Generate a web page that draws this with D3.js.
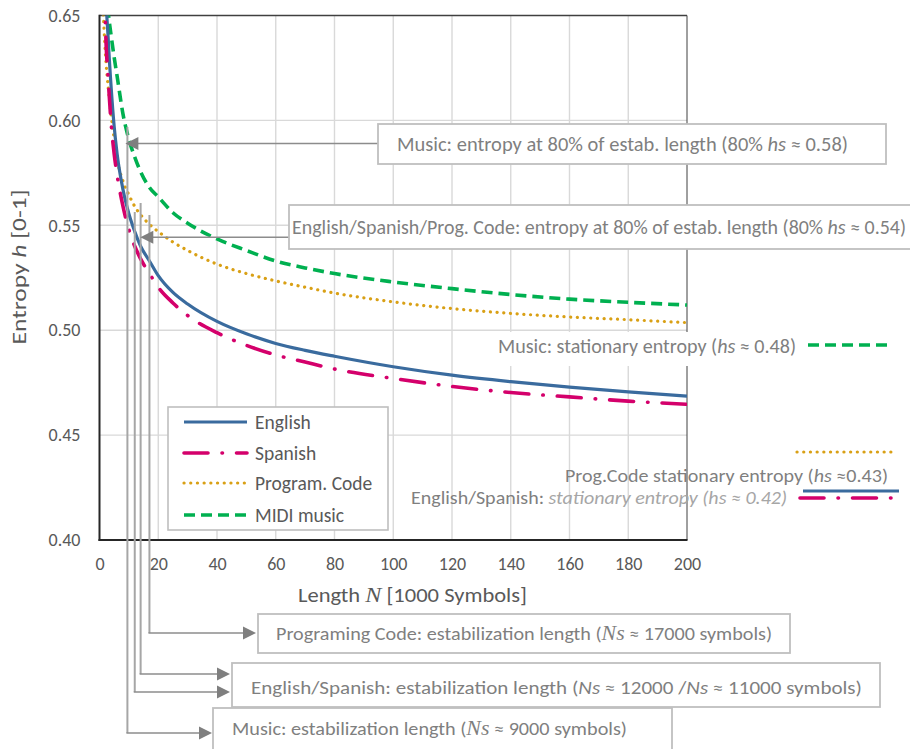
<!DOCTYPE html>
<html>
<head>
<meta charset="utf-8">
<script src="https://cdn.jsdelivr.net/npm/d3@7"></script>
<style>
  html, body { margin: 0; padding: 0; background: #fff; }
  svg { display: block; font-family: Calibri, Carlito, Lato, "Open Sans", sans-serif; }
</style>
</head>
<body>
<svg id="chart" width="910" height="749"></svg>
<script>
// Sequence length N, in thousands of symbols
const lengthK = [1, 2, 3, 4, 5, 6, 8, 10, 12, 14, 17, 20, 25, 30, 40, 50, 60, 70, 80, 100, 120, 140, 160, 180, 200];

// Entropy h for each corpus at the lengths above
const english = [0.78, 0.67, 0.638, 0.615, 0.597, 0.584, 0.567, 0.5555, 0.547, 0.540, 0.533, 0.526, 0.518, 0.5125, 0.5042, 0.4983, 0.4937, 0.4904, 0.4876, 0.4826, 0.4786, 0.4755, 0.4729, 0.4706, 0.4686];
const spanish = [0.74, 0.648, 0.619, 0.598, 0.584, 0.574, 0.559, 0.548, 0.540, 0.534, 0.527, 0.5205, 0.513, 0.507, 0.4988, 0.4928, 0.4882, 0.4848, 0.4815, 0.477, 0.4732, 0.4703, 0.4682, 0.4662, 0.4647];
const progCode = [0.66, 0.632, 0.615, 0.602, 0.591, 0.5815, 0.571, 0.5645, 0.559, 0.555, 0.5505, 0.547, 0.542, 0.538, 0.5315, 0.527, 0.5235, 0.5205, 0.5177, 0.5135, 0.5103, 0.508, 0.5063, 0.505, 0.5036];
const midiMusic = [0.80, 0.666, 0.651, 0.640, 0.630, 0.621, 0.603, 0.591, 0.5825, 0.5755, 0.568, 0.5635, 0.556, 0.551, 0.5435, 0.538, 0.533, 0.5297, 0.527, 0.523, 0.5198, 0.517, 0.5148, 0.5133, 0.512];

const seriesNames = ["English", "Spanish", "Program. Code", "MIDI music"];

// Axis ticks
const xTicks = [0, 20, 40, 60, 80, 100, 120, 140, 160, 180, 200];
const yTicks = [0.40, 0.45, 0.50, 0.55, 0.60, 0.65];

// Stabilisation lengths marked by the leader lines (thousand symbols)
const stabMusic = 9.5, stabSpanish = 12, stabEnglish = 14, stabProg = 17;
// Entropy levels marked by the two "80%" arrows
const h80Music = 0.589, h80Text = 0.5443;

const svg = d3.select("#chart");
const plot = { left: 99.5, right: 687, top: 15.5, bottom: 540 };

const x = d3.scaleLinear().domain([0, 200]).range([plot.left, plot.right]);
const y = d3.scaleLinear().domain([0.40, 0.65]).range([plot.bottom, plot.top]);

const styles = [
  { color: "#3a6b9e", width: 3.2, dash: null, cap: "butt" },
  { color: "#d4006b", width: 3.6, dash: "24,14,0.5,14", cap: "round" },
  { color: "#d9a015", width: 3.2, dash: "0.1,6.6", cap: "round" },
  { color: "#00b050", width: 3.6, dash: "11,6", cap: "butt" }
];
const seriesValues = [english, spanish, progCode, midiMusic];

// Grid
const grid = svg.append("g");
grid.selectAll("line.v").data(xTicks.slice(1, -1)).join("line")
  .attr("x1", d => x(d)).attr("x2", d => x(d))
  .attr("y1", plot.top).attr("y2", plot.bottom)
  .attr("stroke", "#d9d9d9").attr("stroke-width", 1.4);
grid.selectAll("line.h").data(yTicks.slice(1, -1)).join("line")
  .attr("x1", plot.left).attr("x2", plot.right)
  .attr("y1", d => y(d)).attr("y2", d => y(d))
  .attr("stroke", "#d9d9d9").attr("stroke-width", 1.4);

// Frame
svg.append("line").attr("x1", plot.left).attr("x2", plot.right).attr("y1", plot.top).attr("y2", plot.top)
  .attr("stroke", "#404040").attr("stroke-width", 1.6);
svg.append("line").attr("x1", plot.right).attr("x2", plot.right).attr("y1", plot.top).attr("y2", plot.bottom)
  .attr("stroke", "#404040").attr("stroke-width", 1);

// Axes (labels only; axis lines drawn separately)
const xAxis = svg.append("g").attr("transform", `translate(0,${plot.bottom})`)
  .call(d3.axisBottom(x).tickValues(xTicks).tickSize(0).tickPadding(17).tickFormat(d3.format("d")));
const yAxis = svg.append("g").attr("transform", `translate(${plot.left},0)`)
  .call(d3.axisLeft(y).tickValues(yTicks).tickSize(0).tickPadding(19).tickFormat(d3.format(".2f")));
[xAxis, yAxis].forEach(a => {
  a.select(".domain").remove();
  a.selectAll("text").attr("fill", "#595959").style("font-size", "18px")
    .style("font-family", "Calibri, Carlito, Lato, sans-serif");
});
svg.append("line").attr("x1", plot.left).attr("x2", plot.left).attr("y1", plot.top - 0.8).attr("y2", plot.bottom + 1)
  .attr("stroke", "#262626").attr("stroke-width", 2);
svg.append("line").attr("x1", plot.left - 1).attr("x2", plot.right + 0.5).attr("y1", plot.bottom).attr("y2", plot.bottom)
  .attr("stroke", "#262626").attr("stroke-width", 2);

// Text with italic parts, stretched to a given run length
function richText(g, px, py, parts, size, color, len, rotate) {
  const t = g.append("text").attr("dy", "0.35em")
    .attr("fill", color).style("font-size", size + "px");
  if (rotate) t.attr("transform", `translate(${px},${py}) rotate(-90)`).attr("text-anchor", "middle");
  else t.attr("x", px).attr("y", py);
  parts.forEach(p => {
    const s = t.append("tspan").text(p.t);
    if (p.i) s.style("font-style", "italic");
    if (p.serif) s.style("font-family", "'Liberation Serif', serif").style("font-size", (size + 1.5) + "px");
    if (p.c) s.attr("fill", p.c);
  });
  if (len) t.attr("textLength", len).attr("lengthAdjust", "spacingAndGlyphs");
  return t;
}

// Axis titles
richText(svg, 298, 595, [{ t: "Length " }, { t: "N", i: true, serif: true }, { t: " [1000 Symbols]" }], 20.5, "#595959", 229);
richText(svg, 19, 267, [{ t: "Entropy " }, { t: "h", i: true }, { t: " [0-1]" }], 20.5, "#595959", 155, true);

// Curves
svg.append("clipPath").attr("id", "plotClip").append("rect")
  .attr("x", plot.left).attr("y", plot.top).attr("width", plot.right - plot.left).attr("height", plot.bottom - plot.top);
const line = d3.line().x(d => x(d[0])).y(d => y(d[1])).curve(d3.curveMonotoneX);
const curves = svg.append("g").attr("clip-path", "url(#plotClip)");
[3, 2, 0, 1].forEach(i => {
  const s = styles[i];
  curves.append("path")
    .datum(lengthK.map((n, k) => [n, seriesValues[i][k]]))
    .attr("d", line).attr("fill", "none")
    .attr("stroke", s.color).attr("stroke-width", s.width)
    .attr("stroke-dasharray", s.dash).attr("stroke-linecap", s.cap);
});

// Arrowheads with the tip at (tx, ty)
function arrowLeft(g, tx, ty) {
  g.append("path").attr("d", `M${tx},${ty} L${tx + 13},${ty - 6.5} L${tx + 13},${ty + 6.5} Z`).attr("fill", "#7f7f7f");
}
function arrowRight(g, tx, ty) {
  g.append("path").attr("d", `M${tx},${ty} L${tx - 13},${ty - 6.5} L${tx - 13},${ty + 6.5} Z`).attr("fill", "#7f7f7f");
}

// Leader lines for the stabilisation lengths
const leaders = svg.append("g");
const leaderSpec = [
  { n: stabMusic, top: 127, bottom: 733, tip: 212 },
  { n: stabSpanish, top: 212, bottom: 692, tip: 230 },
  { n: stabEnglish, top: 203, bottom: 674, tip: 230 },
  { n: stabProg, top: 215, bottom: 633, tip: 256 }
];
leaderSpec.forEach(l => {
  leaders.append("line").attr("x1", x(l.n)).attr("x2", x(l.n)).attr("y1", l.top).attr("y2", l.bottom)
    .attr("stroke", "#a6a6a6").attr("stroke-width", 2);
  leaders.append("line").attr("x1", x(l.n) - 1).attr("x2", l.tip - 10).attr("y1", l.bottom).attr("y2", l.bottom)
    .attr("stroke", "#8c8c8c").attr("stroke-width", 1.6);
  arrowRight(leaders, l.tip, l.bottom);
});

// Arrows for the 80% entropy levels
const arrows = svg.append("g");
[{ h: h80Music, tipN: 8.8, from: 378 }, { h: h80Text, tipN: 13.9, from: 289 }].forEach(a => {
  arrows.append("line").attr("x1", x(a.tipN) + 10).attr("x2", a.from).attr("y1", y(a.h)).attr("y2", y(a.h))
    .attr("stroke", "#8c8c8c").attr("stroke-width", 1.6);
  arrowLeft(arrows, x(a.tipN), y(a.h));
});

// Boxed callouts
const boxes = svg.append("g");
function box(x0, y0, x1, y1) {
  boxes.append("rect").attr("x", x0).attr("y", y0).attr("width", x1 - x0).attr("height", y1 - y0)
    .attr("fill", "#fff").attr("stroke", "#bfbfbf").attr("stroke-width", 1.8);
}
box(378, 124, 886, 164);
richText(boxes, 397, 144, [{ t: "Music: entropy at 80% of estab. length (80% " }, { t: "hs", i: true }, { t: "  ≈ 0.58)" }], 19.5, "#7f7f7f", 451);
box(289, 205, 912, 249);
richText(boxes, 292, 227, [{ t: "English/Spanish/Prog. Code: entropy at 80% of estab. length (80% " }, { t: "hs", i: true }, { t: " ≈ 0.54)" }], 19.5, "#7f7f7f", 614);

box(258, 614, 790, 653);
richText(boxes, 276, 634, [{ t: "Programing Code: estabilization length (" }, { t: "Ns", i: true, serif: true }, { t: " ≈ 17000 symbols)" }], 18.5, "#7f7f7f", 496);
box(232, 663, 880, 707);
richText(boxes, 251, 688, [{ t: "English/Spanish: estabilization length (" }, { t: "Ns", i: true }, { t: " ≈ 12000 /" }, { t: "Ns", i: true }, { t: " ≈ 11000 symbols)" }], 18.5, "#7f7f7f", 611);
box(213, 708, 672, 752);
richText(boxes, 232, 729, [{ t: "Music: estabilization length (" }, { t: "Ns", i: true, serif: true }, { t: " ≈ 9000 symbols)" }], 18.5, "#7f7f7f", 395);

// Stationary entropy labels on the right
const stat = svg.append("g");
stat.append("rect").attr("x", 477).attr("y", 332).attr("width", 325).attr("height", 34).attr("fill", "#fff");
richText(stat, 498, 346, [{ t: "Music: stationary entropy (" }, { t: "hs", i: true }, { t: " ≈ 0.48)" }], 19.5, "#7f7f7f", 298);
richText(stat, 411, 498, [{ t: "English/Spanish: " }, { t: "stationary entropy (", i: true, c: "#a6a6a6" }, { t: "hs", i: true, c: "#a6a6a6" }, { t: " ≈ 0.42)", i: true, c: "#a6a6a6" }], 18, "#7f7f7f", 376);
richText(stat, 565, 476, [{ t: "Prog.Code stationary entropy (" }, { t: "hs", i: true }, { t: " ≈0.43)" }], 18, "#7f7f7f", 323);

const statLines = [
  { i: 3, x0: 808, x1: 893, yy: 345 },
  { i: 2, x0: 797, x1: 892, yy: 452 },
  { i: 0, x0: 803, x1: 899, yy: 491 },
  { i: 1, x0: 800, x1: 900, yy: 498 }
];
statLines.forEach(sl => {
  const s = styles[sl.i];
  stat.append("line").attr("x1", sl.x0).attr("x2", sl.x1).attr("y1", sl.yy).attr("y2", sl.yy)
    .attr("stroke", s.color).attr("stroke-width", s.width)
    .attr("stroke-dasharray", s.dash).attr("stroke-linecap", s.cap);
});

// Legend
const legend = svg.append("g");
legend.append("rect").attr("x", 168).attr("y", 407).attr("width", 220).attr("height", 123)
  .attr("fill", "#fff").attr("stroke", "#bfbfbf").attr("stroke-width", 1.6);
const legendY = [422, 453, 483, 515];
seriesNames.forEach((name, i) => {
  const s = styles[i];
  legend.append("line").attr("x1", 184).attr("x2", 247).attr("y1", legendY[i]).attr("y2", legendY[i])
    .attr("stroke", s.color).attr("stroke-width", s.width)
    .attr("stroke-dasharray", s.dash).attr("stroke-linecap", s.cap);
  legend.append("text").attr("x", 255).attr("y", legendY[i]).attr("dy", "0.35em")
    .attr("fill", "#595959").style("font-size", "19.5px").text(name);
});
</script>
</body>
</html>
